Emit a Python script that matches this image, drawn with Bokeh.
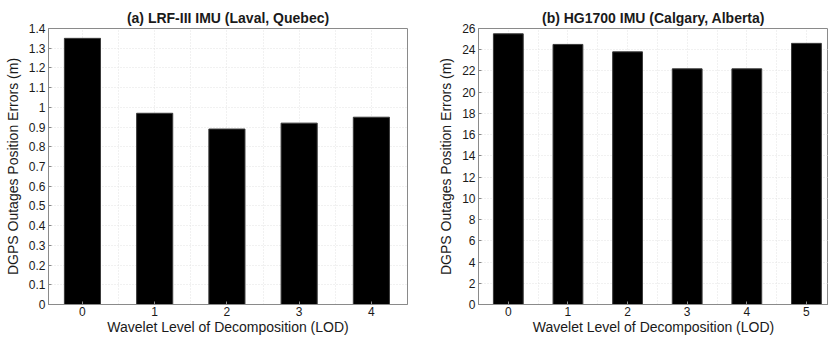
import numpy as np
from bokeh.plotting import figure
from bokeh.layouts import row
from bokeh.models import FixedTicker, NumeralTickFormatter, Range1d
from bokeh.embed import file_html
from bokeh.resources import INLINE

# ---- data ----
lod_a = [0, 1, 2, 3, 4]
err_a = [1.35, 0.97, 0.89, 0.92, 0.95]
title_a = "(a) LRF-III IMU (Laval, Quebec)"

lod_b = [0, 1, 2, 3, 4, 5]
err_b = [25.5, 24.5, 23.8, 22.2, 22.2, 24.6]
title_b = "(b) HG1700 IMU (Calgary, Alberta)"

xlabel = "Wavelet Level of Decomposition (LOD)"
ylabel = "DGPS Outages Position Errors (m)"

FONT = "Liberation Sans"
TXT = "#1a1a1a"
FRAME = "#8a8a8a"
GRID = "#e2e2e2"


def make(lods, errs, title, x_rng, y_max, y_step, width, height, bl, br, bt, bb, fmt):
    p = figure(width=width, height=height, output_backend="svg", toolbar_location=None,
               x_range=Range1d(*x_rng), y_range=Range1d(0, y_max),
               min_border_left=bl, min_border_right=br, min_border_top=bt, min_border_bottom=bb,
               title=title)
    p.title.text_font = FONT
    p.title.text_font_size = "14px"
    p.title.text_font_style = "bold"
    p.title.text_color = TXT
    p.title.align = "center"
    p.title.standoff = 5

    p.vbar(x=lods, top=errs, width=0.5, bottom=0, fill_color="black", line_color="#3a3a3a", line_width=1)

    p.outline_line_color = FRAME
    p.outline_line_width = 1
    p.outline_line_alpha = 1

    yt = list(np.round(np.arange(0, y_max + y_step / 2, y_step), 3))
    p.yaxis.ticker = FixedTicker(ticks=yt)
    p.xaxis.ticker = FixedTicker(ticks=lods)
    p.yaxis.formatter = NumeralTickFormatter(format=fmt)

    half = list(np.arange(-0.5, len(lods) + 0.5, 0.5))
    p.xgrid.ticker = FixedTicker(ticks=half)
    for g in (p.xgrid, p.ygrid):
        g.grid_line_color = GRID
        g.grid_line_dash = "1 2"
        g.grid_line_width = 1

    for ax in (p.xaxis, p.yaxis):
        ax.axis_line_color = FRAME
        ax.major_tick_line_color = FRAME
        ax.major_tick_in = 3
        ax.major_tick_out = 0
        ax.minor_tick_line_color = None
        ax.major_label_text_font = FONT
        ax.major_label_text_font_size = "12px"
        ax.major_label_text_color = TXT
        ax.major_label_standoff = 3
        ax.axis_label_text_font = FONT
        ax.axis_label_text_font_style = "normal"
        ax.axis_label_text_color = TXT
        ax.axis_label_text_font_size = "14px"
    p.xaxis.major_label_standoff = 2
    p.xaxis.axis_label = xlabel
    p.xaxis.axis_label_standoff = 0
    p.yaxis.axis_label = ylabel
    p.yaxis.axis_label_standoff = 5
    p.background_fill_color = "white"
    p.border_fill_color = "white"
    return p


p1 = make(lod_a, err_a, title_a, (-0.47, 4.5), 1.4, 0.1, 410, 341, 48, 3, 28, 35, "0.[0]")
p2 = make(lod_b, err_b, title_b, (-0.5, 5.37), 26, 2, 418, 341, 68, 0, 28, 37, "0")

layout = row(p1, p2)

open("out.html", "w").write(file_html(layout, INLINE))
